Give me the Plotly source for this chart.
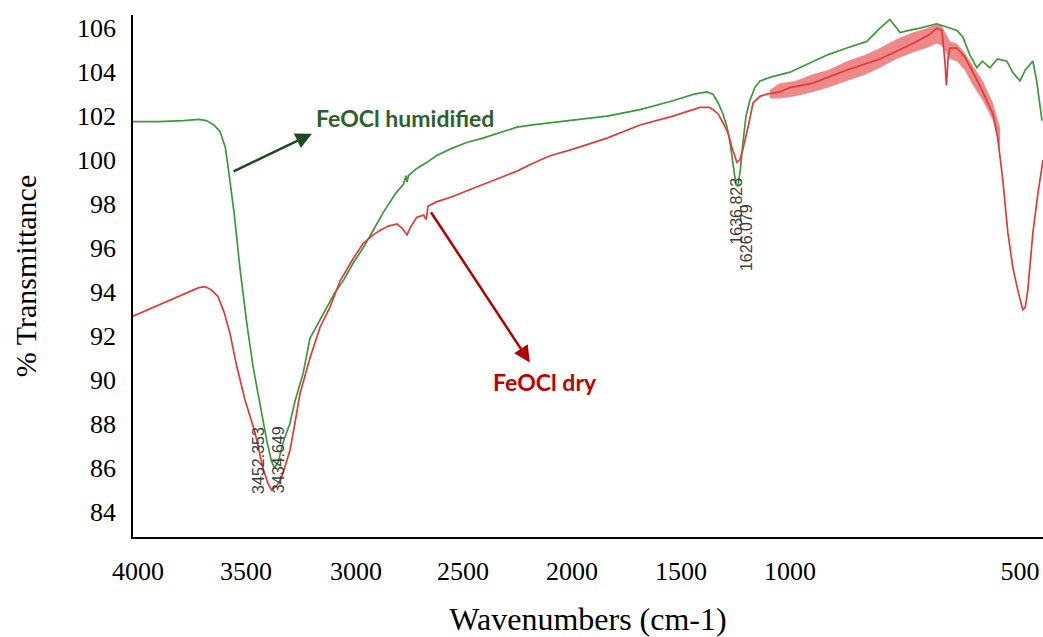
import plotly.graph_objects as go

# ---- data ----
green_wn = [4000, 3900, 3800, 3740, 3710, 3680, 3656, 3635, 3624, 3600, 3577, 3550, 3525, 3500,
            3470, 3452, 3440, 3425, 3405, 3380, 3360, 3340, 3327, 3300, 3260, 3233, 3200, 3169,
            3130, 3090, 3050, 3011, 2960, 2930, 2920, 2916, 2910, 2880, 2837, 2800, 2746, 2680,
            2616, 2550, 2481, 2420, 2350, 2259, 2125, 1994, 1864, 1780, 1730, 1706, 1685, 1666,
            1650, 1638, 1625, 1615, 1607, 1597, 1587, 1575, 1560, 1540, 1520, 1470, 1401, 1310,
            1250, 1176, 1097, 1045, 1006, 978, 966, 930, 887, 820, 768, 740, 717, 690, 662, 640,
            610, 580, 543, 520, 491, 470, 440, 425, 404]
green_t = [101.75, 101.75, 101.8, 101.85, 101.8, 101.6, 101.3, 100.6, 99.7, 97.6, 95.1, 92.6, 90.6, 89.0,
           87.2, 86.3, 86.0, 86.3, 87.2, 88.0, 89.0, 89.8, 90.3, 91.9, 92.7, 93.3, 94.0, 94.5,
           95.3, 96.0, 96.8, 97.6, 98.5, 98.9, 99.3, 99.0, 99.3, 99.6, 99.9, 100.2, 100.5, 100.8,
           101.0, 101.25, 101.5, 101.6, 101.7, 101.8, 102.0, 102.3, 102.7, 103.0, 103.1, 103.0, 102.6, 102.1,
           101.5, 100.8, 99.6, 98.9, 98.8, 99.6, 100.8, 102.0, 102.7, 103.3, 103.6, 103.8, 104.0, 104.5,
           104.8, 105.1, 105.4, 106.0, 106.4, 106.0, 105.8, 105.9, 106.0, 106.2, 106.0, 105.9, 105.6, 104.8, 104.2, 104.5,
           104.2, 104.6, 104.5, 104.0, 103.6, 104.1, 104.5, 103.6, 101.8]

red_wn = [4000, 3940, 3881, 3800, 3740, 3715, 3690, 3664, 3640, 3616, 3589, 3557, 3517, 3486,
          3466, 3452, 3430, 3411, 3379, 3360, 3339, 3300, 3260, 3221, 3181, 3130, 3090, 3050,
          3023, 2990, 2956, 2935, 2916, 2900, 2877, 2850, 2840, 2833, 2800, 2746, 2680, 2616,
          2550, 2481, 2420, 2350, 2259, 2125, 1994, 1864, 1757, 1720, 1706, 1685, 1666, 1645,
          1631, 1611, 1600, 1587, 1565, 1547, 1520, 1492, 1441, 1401, 1310, 1176, 1045, 915,
          850, 820, 800, 788, 782, 775, 768, 741, 710, 677, 638, 598, 579, 559, 539, 519, 500,
          480, 470, 460, 440, 420, 400]
red_t = [92.9, 93.2, 93.5, 93.9, 94.2, 94.25, 94.1, 93.8, 93.1, 92.1, 90.6, 89.1, 87.6, 86.0,
         85.3, 85.0, 85.2, 85.6, 86.8, 88.0, 89.4, 91.0, 92.4, 93.3, 94.5, 95.5, 96.2, 96.6,
         96.8, 97.0, 97.1, 96.9, 96.6, 97.0, 97.4, 97.5, 97.3, 97.9, 98.1, 98.3, 98.6, 98.9,
         99.2, 99.5, 99.85, 100.2, 100.5, 101.0, 101.6, 102.0, 102.4, 102.4, 102.3, 102.1, 101.7, 101.2,
         100.6, 99.9, 100.0, 100.5, 101.6, 102.6, 102.9, 103.0, 103.1, 103.3, 103.5, 104.1, 104.6, 105.3,
         105.7, 106.0, 105.9, 104.5, 103.4, 104.7, 105.1, 105.1, 104.7, 104.0, 103.1, 102.1, 101.0, 99.1, 96.7, 95.1, 94.1,
         93.2, 93.3, 94.1, 96.7, 98.5, 100.0]

# noisy (hatched) band of the dry spectrum: upper and lower envelopes
band_wn = [1480, 1441, 1380, 1310, 1250, 1176, 1100, 1045, 980, 915, 860, 820, 800,
           768, 741, 710, 677, 638, 598, 570]
band_hi = [103.2, 103.5, 103.6, 103.9, 104.1, 104.5, 104.8, 105.1, 105.5, 105.8, 106.0, 106.2, 106.1,
           105.4, 105.3, 104.9, 104.3, 103.6, 102.6, 101.5]
band_lo = [102.8, 102.8, 102.9, 103.1, 103.3, 103.6, 103.9, 104.2, 104.6, 104.9, 105.1, 105.3, 105.2,
           104.6, 104.5, 104.1, 103.4, 102.7, 101.8, 100.5]

# tick labels as placed in the reference
x_tick_pos = [3980, 3553, 3118, 2695, 2263, 1832, 1401, 491]
x_tick_text = ["4000", "3500", "3000", "2500", "2000", "1500", "1000", "500"]
y_ticks = [84, 86, 88, 90, 92, 94, 96, 98, 100, 102, 104, 106]

# peak labels
peak_text = ["3452.353", "3434.649", "1636.823", "1626.079"]
peak_wn = [3506, 3426, 1611, 1575]
peak_t = [86.36, 86.36, 97.7, 96.5]

GREEN = "#3a9a3a"
RED = "#e03a3a"

fig = go.Figure()
fig.add_trace(go.Scatter(x=band_wn + band_wn[::-1], y=band_hi + band_lo[::-1], mode="lines",
                         fill="toself", fillcolor="rgba(225,40,40,0.55)",
                         line=dict(color="rgba(0,0,0,0)", width=0), hoverinfo="skip"))
fig.add_trace(go.Scatter(x=green_wn, y=green_t, mode="lines",
                         line=dict(color=GREEN, width=1.7), name="FeOCl humidified"))
fig.add_trace(go.Scatter(x=red_wn, y=red_t, mode="lines",
                         line=dict(color=RED, width=1.7), name="FeOCl dry"))

serif = "Liberation Serif, Times New Roman, serif"

fig.update_layout(
    width=1043, height=637,
    margin=dict(l=133, r=0, t=15, b=100),
    paper_bgcolor="white", plot_bgcolor="white",
    showlegend=False,
    font=dict(family=serif, color="black"),
)
fig.update_xaxes(
    range=[4000, 400], autorange=False,
    tickmode="array", tickvals=x_tick_pos, ticktext=x_tick_text,
    tickfont=dict(family=serif, size=26, color="black"),
    showgrid=False, zeroline=False,
    showline=True, linecolor="black", linewidth=1.5,
    ticks="", ticklabelstandoff=10,
    title=dict(text="Wavenumbers (cm-1)", font=dict(family=serif, size=32, color="black"), standoff=28),
)
fig.update_yaxes(
    range=[82.86, 106.6], autorange=False,
    tickmode="array", tickvals=y_ticks,
    tickfont=dict(family=serif, size=26, color="black"),
    showgrid=False, zeroline=False,
    showline=True, linecolor="black", linewidth=1.5,
    ticks="", ticklabelstandoff=10,
    title=dict(text="% Transmittance", font=dict(family=serif, size=30, color="black"), standoff=32),
)

# peak labels (rotated)
for txt, xv, yv in zip(peak_text, peak_wn, peak_t):
    fig.add_annotation(x=xv, y=yv, text=txt, showarrow=False, textangle=-90,
                       font=dict(family="Liberation Sans, Arial", size=16, color="#3c3c3c"))

# series labels and arrows
fig.add_annotation(x=2924, y=101.9, text="<b>FeOCl humidified</b>", showarrow=False,
                   font=dict(family="Lato, Calibri, sans-serif", size=23, color="#2f5f2a"))
fig.add_annotation(x=3292, y=101.2, ax=3608, ay=99.45, axref="x", ayref="y", text="",
                   showarrow=True, arrowhead=2, arrowsize=1.3, arrowwidth=2.5, arrowcolor="#1f4a1f")
fig.add_annotation(x=2370, y=89.9, text="<b>FeOCl dry</b>", showarrow=False,
                   font=dict(family="Lato, Calibri, sans-serif", size=23, color="#c00000"))
fig.add_annotation(x=2430, y=90.8, ax=2825, ay=97.7, axref="x", ayref="y", text="",
                   showarrow=True, arrowhead=2, arrowsize=1.3, arrowwidth=2.5, arrowcolor="#b00000")

fig.write_html("out.html")
